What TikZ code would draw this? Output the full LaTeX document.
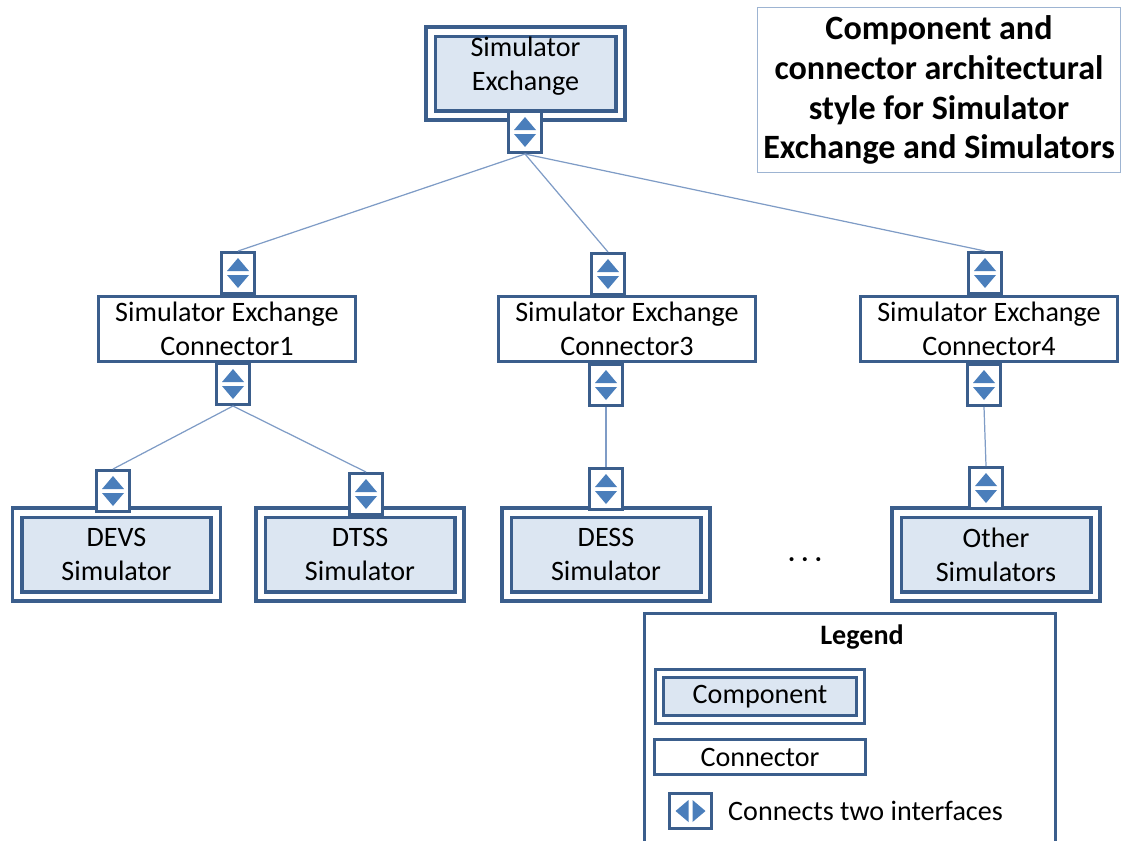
\documentclass[tikz,border=0pt]{standalone}
\usepackage{fontspec}
\setmainfont{Carlito}
\definecolor{frameblue}{HTML}{3B5E8C}
\definecolor{compfill}{HTML}{DCE6F2}
\definecolor{triblue}{HTML}{4A7EBB}
\definecolor{wireblue}{HTML}{7F9CC6}
\definecolor{noteblue}{HTML}{9DB4D2}
\newcommand{\boxfont}{\fontsize{16}{19.5}\selectfont}
\newcommand{\titlefont}{\fontsize{19.4}{22.7}\selectfont\bfseries}

\begin{document}
\begin{tikzpicture}[x=0.02cm, y=-0.02cm,
  component/.style={draw=frameblue, line width=2pt, double=white, double distance=3.4pt, fill=compfill, minimum width=3.98cm, minimum height=1.68cm, inner sep=0pt, align=center, font=\boxfont},
  connector/.style={draw=frameblue, line width=1.7pt, fill=white, minimum width=5.14cm, minimum height=1.3cm, inner sep=0pt, align=center, font=\boxfont},
  iface/.style={draw=frameblue, line width=1.7pt, fill=white, minimum width=0.66cm, minimum height=0.82cm, inner sep=0pt,
    path picture={\fill[triblue, shift={(path picture bounding box.center)}] (-0.22cm,0.04cm) -- (0,0.3cm) -- (0.22cm,0.04cm) -- cycle (-0.22cm,-0.04cm) -- (0,-0.3cm) -- (0.22cm,-0.04cm) -- cycle;}},
  ifaceh/.style={draw=frameblue, line width=1.7pt, fill=white, minimum width=0.84cm, minimum height=0.7cm, inner sep=0pt,
    path picture={\fill[triblue, shift={(path picture bounding box.center)}] (-0.04cm,-0.22cm) -- (-0.3cm,0) -- (-0.04cm,0.22cm) -- cycle (0.04cm,-0.22cm) -- (0.3cm,0) -- (0.04cm,0.22cm) -- cycle;}},
  wire/.style={draw=wireblue, line width=0.7pt}]
  \useasboundingbox (0,0) rectangle (1124,840);
  \node[draw=noteblue, line width=0.9pt, minimum width=7.22cm, minimum height=3.3cm, align=center, font=\titlefont] (title) at (939,90) {Component and\\connector architectural\\style for Simulator\\Exchange and Simulators};
  \node[component, minimum width=3.8cm] (simx) at (525.5,73.5) {};
  \node[align=center, font=\boxfont] (simxtext) at (525.5,66) {Simulator\\Exchange};
  \node[iface] (simxif) at (525,132) {};
  \node[connector] (conn1) at (227,329) {Simulator Exchange\\Connector1};
  \node[iface] (conn1up) at (238,273) {};
  \node[iface] (conn1dn) at (233,384) {};
  \node[connector] (conn3) at (627,329) {Simulator Exchange\\Connector3};
  \node[iface] (conn3up) at (608,274) {};
  \node[iface] (conn3dn) at (606,385) {};
  \node[connector] (conn4) at (989,329) {Simulator Exchange\\Connector4};
  \node[iface] (conn4up) at (985,273) {};
  \node[iface] (conn4dn) at (984,385) {};
  \node[component] (devs) at (116.5,554.5) {DEVS\\Simulator};
  \node[iface] (devsif) at (113,491) {};
  \node[component] (dtss) at (360,554.5) {DTSS\\Simulator};
  \node[iface] (dtssif) at (366,494) {};
  \node[component] (dess) at (606,554.5) {DESS\\Simulator};
  \node[iface] (dessif) at (606,489) {};
  \node[component] (other) at (996,554.5) {Other\\Simulators};
  \node[iface] (otherif) at (986,488) {};
  \node[font=\boxfont] (dots) at (805,563) {· · ·};
  \draw[wire] (simxif.south) -- (conn1up.north);
  \draw[wire] (simxif.south) -- (conn3up.north);
  \draw[wire] (simxif.south) -- (conn4up.north);
  \draw[wire] (conn1dn.south) -- (devsif.north);
  \draw[wire] (conn1dn.south) -- (dtssif.north);
  \draw[wire] (conn3dn.south) -- (dessif.north);
  \draw[wire] (conn4dn.south) -- (otherif.north);
  \node[draw=frameblue, line width=1.7pt, anchor=north west, minimum width=8.22cm, minimum height=5cm] (legend) at (643,612) {};
  \node[font=\boxfont\bfseries] (legendtitle) at (862,637) {Legend};
  \node[component, line width=1.9pt, double distance=2.6pt, minimum width=4.02cm, minimum height=0.92cm] (legcomp) at (760,696.5) {Component};
  \node[connector, minimum width=4.22cm, minimum height=0.7cm] (legconn) at (760,757) {Connector};
  \node[ifaceh] (legif) at (690.5,811) {};
  \node[font=\boxfont, anchor=west] (legiftext) at (722,811) {Connects two interfaces};
\end{tikzpicture}
\end{document}
